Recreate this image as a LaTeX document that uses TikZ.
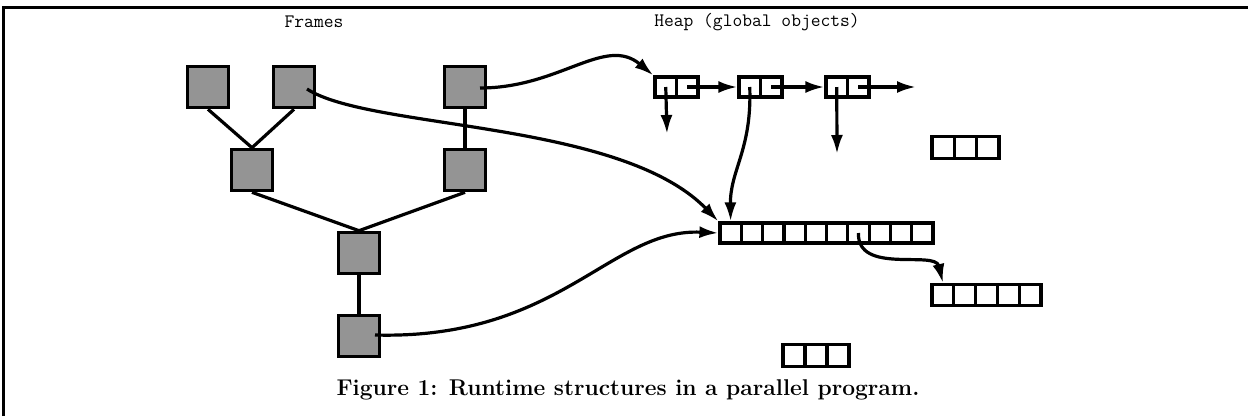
\documentclass[tikz,border=0pt]{standalone}
\usepackage{fontspec}
\usetikzlibrary{arrows.meta}
\begin{document}
\begin{tikzpicture}[x=1pt,y=1pt,
  frm/.style={draw, line width=3.6pt, fill=black!42, minimum size=41pt, inner sep=0pt},
  cellbox/.style={draw, line width=3.2pt, minimum width=21.3pt, minimum height=20pt, inner sep=0pt},
  halfcell/.style={draw, line width=3.2pt, minimum width=21.5pt, minimum height=20pt, inner sep=0pt},
  link/.style={line width=3.2pt},
  arr/.style={line width=3.2pt, -{Latex[length=19pt,width=12pt]}},
  lbl/.style={font=\fontsize{19}{22}\selectfont\ttfamily, inner sep=0pt},
  captext/.style={font=\fontsize{22.8}{26}\selectfont\bfseries, inner sep=0pt}]
\useasboundingbox (0,0) rectangle (1248,-416);
% border (top and left)
\coordinate (bl) at (3,-416);
\coordinate (tl) at (3,-7);
\coordinate (tr) at (1248,-7);
\draw[line width=3pt] (bl) -- (tl) -- (tr);
% labels
\node[lbl] (tframes) at (314,-22) {Frames};
\node[lbl] (theap) at (757,-22) {Heap (global objects)};
\node[captext] (caption) at (628,-390) {Figure 1: Runtime structures in a parallel program.};
% frames
\node[frm] (A) at (208,-87) {};
\node[frm] (B) at (294,-87) {};
\node[frm] (C) at (465,-87) {};
\node[frm] (D) at (252,-170) {};
\node[frm] (E) at (465,-170) {};
\node[frm] (F) at (359,-253) {};
\node[frm] (G) at (359,-336) {};
\draw[link] (A.south) -- (D.north);
\draw[link] (B.south) -- (D.north);
\draw[link] (C.south) -- (E.north);
\draw[link] (D.south) -- (F.north);
\draw[link] (E.south) -- (F.north);
\draw[link] (F.south) -- (G.north);
% cons cells
\foreach \n/\x in {1/655,2/739,3/826}{
  \node[halfcell] (c\n a) at (\x+10.75,-87) {};
  \node[halfcell] (c\n b) at (\x+32.25,-87) {};
}
\coordinate (d1) at (667,-134);
\coordinate (d3) at (837,-154);
\coordinate (rend) at (916,-87);
\draw[arr] (c1b.center) -- (c2a.west);
\draw[arr] (c2b.center) -- (c3a.west);
\draw[arr] (c3b.center) -- (rend);
\draw[arr] (c1a.center) -- (d1);
\draw[arr] (c3a.center) -- (d3);
% long array
\foreach \i in {0,...,9}{
  \node[cellbox] (L\i) at (720+21.3*\i+10.65,-233) {};
}
% array of five
\foreach \i in {0,...,4}{
  \node[cellbox, minimum width=21.8pt, minimum height=21pt] (M\i) at (932+21.8*\i+10.9,-295) {};
}
% arrays of three
\foreach \i in {0,...,2}{
  \node[cellbox, minimum width=22.3pt, minimum height=22pt] (P\i) at (932+22.3*\i+11.15,-147.5) {};
  \node[cellbox, minimum width=22pt, minimum height=22pt] (Q\i) at (783+22*\i+11,-355.5) {};
}
% pointers
\coordinate (bstart) at (307,-89);
\coordinate (cstart) at (480,-88);
\coordinate (gstart) at (375,-335);
\draw[arr] (cstart) .. controls (560,-88) and (605,-35) .. (c1a.north west);
\draw[arr] (bstart) .. controls (370,-130) and (620,-120) .. (L0.north west);
\draw[arr] (gstart) .. controls (560,-340) and (610,-228) .. (L0.west);
\draw[arr] (c2a.center) .. controls (752,-150) and (730,-170) .. (L0.north);
\draw[arr] (L6.center) .. controls (857,-275) and (935,-250) .. (M0.north);
\end{tikzpicture}
\end{document}
